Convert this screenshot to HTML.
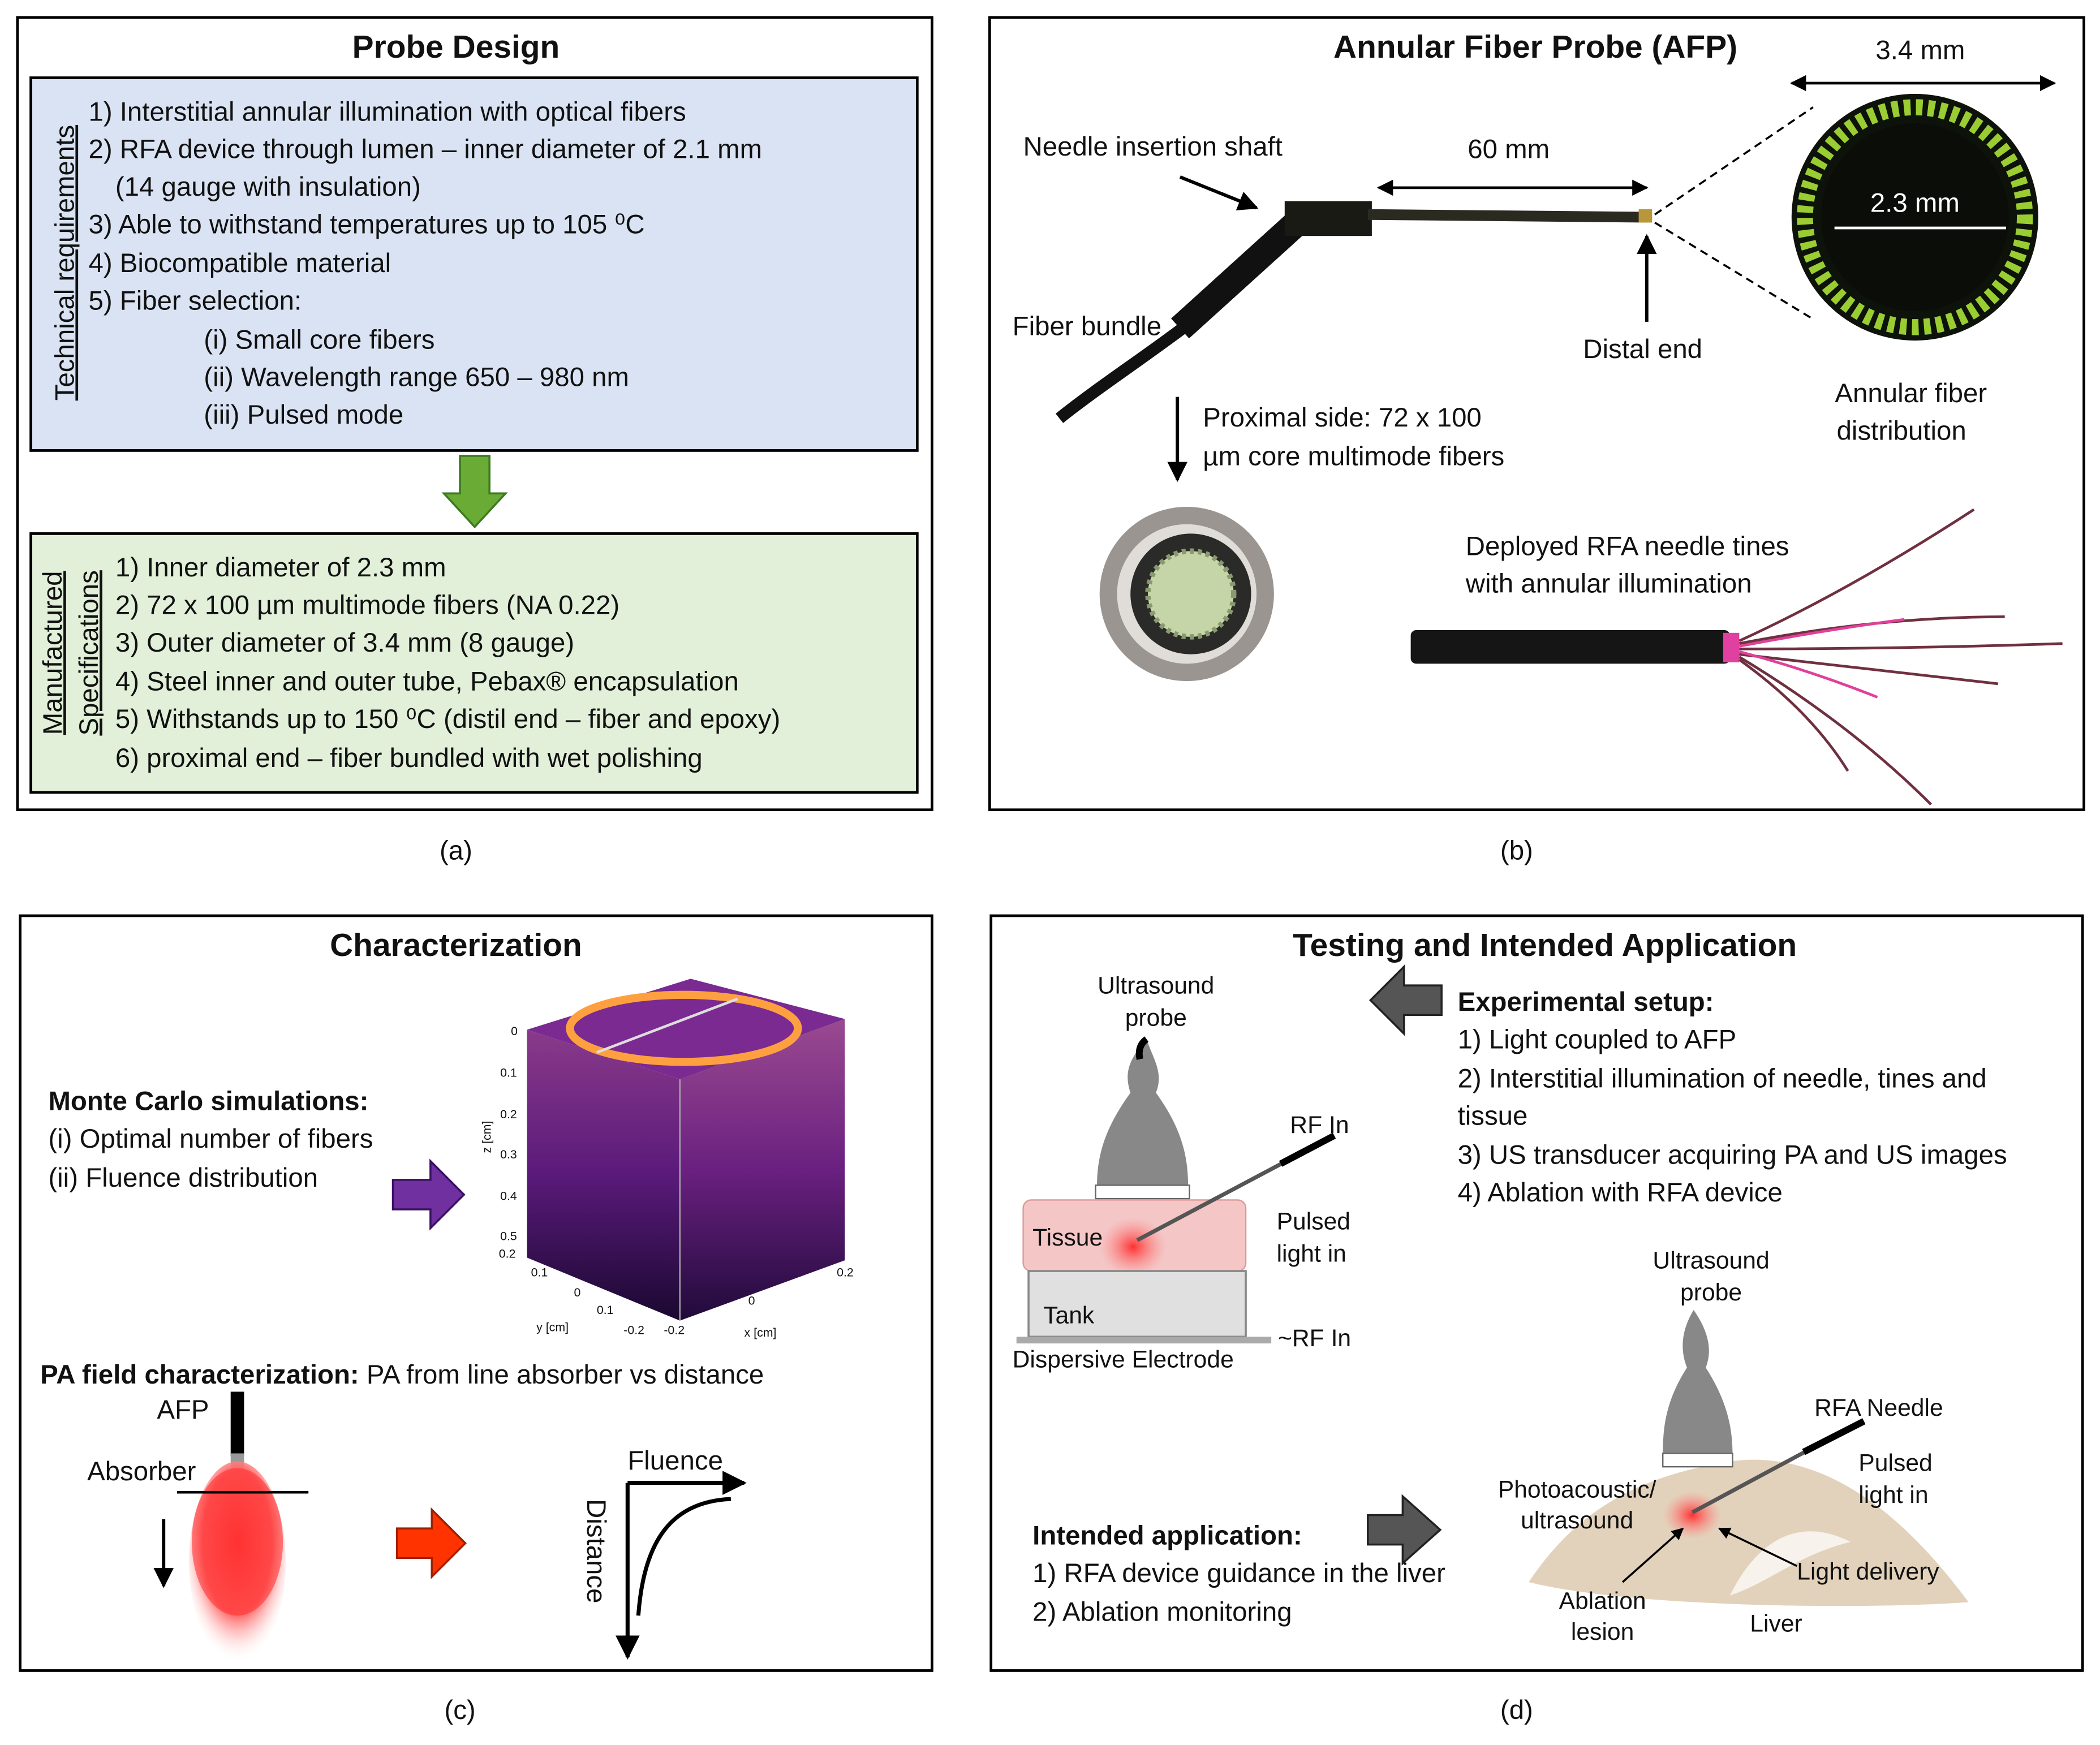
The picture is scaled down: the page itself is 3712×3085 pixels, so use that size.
<!DOCTYPE html>
<html><head><meta charset="utf-8"><style>
html,body{margin:0;padding:0;background:#fff}
svg{display:block}
text{font-family:"Liberation Sans",sans-serif;fill:#111}
.t{font-size:20px}
.h{font-size:24px;font-weight:bold}
.s{font-size:18px}
.xs{font-size:9px}
</style></head><body>
<svg width="3712" height="3085" viewBox="0 0 1566 1301.5" xmlns="http://www.w3.org/2000/svg">
<defs>
<marker id="ar" viewBox="0 0 10 10" refX="9" refY="5" markerWidth="6" markerHeight="6" orient="auto-start-reverse"><path d="M0,0L10,5L0,10z" fill="#000"/></marker>
<radialGradient id="glow" cx="50%" cy="40%" r="60%"><stop offset="0" stop-color="#ff3030"/><stop offset="0.6" stop-color="#f66"/><stop offset="1" stop-color="#fff" stop-opacity="0"/></radialGradient>
<linearGradient id="cubeF" x1="0" y1="0" x2="0" y2="1"><stop offset="0" stop-color="#8a3a8a"/><stop offset="0.5" stop-color="#5a1a7a"/><stop offset="1" stop-color="#1a0830"/></linearGradient>
<linearGradient id="cubeR" x1="0" y1="0" x2="0" y2="1"><stop offset="0" stop-color="#9a4a90"/><stop offset="0.5" stop-color="#6a2080"/><stop offset="1" stop-color="#200a3a"/></linearGradient>
<radialGradient id="lgl" cx="50%" cy="50%" r="50%"><stop offset="0" stop-color="#ff3030"/><stop offset="1" stop-color="#f88" stop-opacity="0"/></radialGradient>
</defs>

<!-- Panel a -->
<rect x="13" y="13" width="682" height="591" fill="#fff" stroke="#000" stroke-width="2"/>
<text x="340" y="43" class="h" text-anchor="middle">Probe Design</text>
<rect x="23" y="58" width="661" height="278" fill="#dae3f3" stroke="#000" stroke-width="2"/>
<text transform="translate(55,196) rotate(-90)" class="t" text-anchor="middle" text-decoration="underline">Technical requirements</text>
<g class="t">
<text x="66" y="90">1) Interstitial annular illumination with optical fibers</text>
<text x="66" y="118">2) RFA device through lumen – inner diameter of 2.1 mm</text>
<text x="86" y="146">(14 gauge with insulation)</text>
<text x="66" y="174">3) Able to withstand temperatures up to 105 ⁰C</text>
<text x="66" y="203">4) Biocompatible material</text>
<text x="66" y="231">5) Fiber selection:</text>
<text x="152" y="260">(i)  Small core fibers</text>
<text x="152" y="288">(ii) Wavelength range 650 – 980 nm</text>
<text x="152" y="316">(iii) Pulsed mode</text>
</g>
<path d="M343,340h22v28h12l-23,25l-23,-25h12z" fill="#6aab35" stroke="#3a7a20" stroke-width="1.5"/>
<rect x="23" y="398" width="661" height="193" fill="#e2efd9" stroke="#000" stroke-width="2"/>
<text transform="translate(46,487) rotate(-90)" class="t" text-anchor="middle" text-decoration="underline">Manufactured</text>
<text transform="translate(73,487) rotate(-90)" class="t" text-anchor="middle" text-decoration="underline">Specifications</text>
<g class="t">
<text x="86" y="430">1) Inner diameter of 2.3 mm</text>
<text x="86" y="458">2) 72 x 100 µm multimode fibers (NA 0.22)</text>
<text x="86" y="486">3) Outer diameter of 3.4 mm (8 gauge)</text>
<text x="86" y="515">4) Steel inner  and outer tube, Pebax® encapsulation</text>
<text x="86" y="543">5) Withstands up to 150 ⁰C  (distil end – fiber and epoxy)</text>
<text x="86" y="572">6) proximal end – fiber bundled with wet polishing</text>
</g>
<text x="340" y="641" class="t" font-size="24" text-anchor="middle">(a)</text>

<!-- Panel b -->
<rect x="738" y="13" width="816" height="591" fill="#fff" stroke="#000" stroke-width="2"/>
<text x="1145" y="43" class="h" text-anchor="middle">Annular Fiber Probe (AFP)</text>
<text x="763" y="116" class="t">Needle insertion shaft</text>
<line x1="880" y1="132" x2="937" y2="155" stroke="#000" stroke-width="2.5" marker-end="url(#ar)"/>
<text x="1125" y="118" class="t" text-anchor="middle">60 mm</text>
<line x1="1028" y1="140" x2="1228" y2="140" stroke="#000" stroke-width="2" marker-start="url(#ar)" marker-end="url(#ar)"/>
<path d="M790,312 C830,280 880,250 925,210 L965,170" stroke="#111" stroke-width="9" fill="none"/>
<path d="M880,245 L965,168" stroke="#111" stroke-width="20" fill="none"/>
<rect x="958" y="150" width="65" height="26" fill="#1a1a14"/>
<line x1="1020" y1="160" x2="1228" y2="162" stroke="#2a2a20" stroke-width="8"/>
<rect x="1222" y="156" width="10" height="10" fill="#b8963a"/>
<text x="755" y="250" class="t">Fiber bundle</text>
<line x1="1228" y1="240" x2="1228" y2="176" stroke="#000" stroke-width="2.5" marker-end="url(#ar)"/>
<text x="1225" y="267" class="t" text-anchor="middle">Distal end</text>
<line x1="1234" y1="160" x2="1352" y2="80" stroke="#000" stroke-width="1.5" stroke-dasharray="6,4"/>
<line x1="1234" y1="166" x2="1352" y2="238" stroke="#000" stroke-width="1.5" stroke-dasharray="6,4"/>
<circle cx="1428" cy="162" r="92" fill="#0d120a"/>
<circle cx="1428" cy="162" r="82" fill="none" stroke="#9acd32" stroke-width="12" stroke-dasharray="5,4"/>
<circle cx="1428" cy="162" r="70" fill="#0b0e08"/>
<text x="1432" y="44" class="t" text-anchor="middle">3.4 mm</text>
<line x1="1336" y1="62" x2="1532" y2="62" stroke="#000" stroke-width="2" marker-start="url(#ar)" marker-end="url(#ar)"/>
<text x="1428" y="158" class="t" text-anchor="middle" style="fill:#fff">2.3 mm</text>
<line x1="1368" y1="170" x2="1496" y2="170" stroke="#fff" stroke-width="2"/>
<text x="1425" y="300" class="t" text-anchor="middle">Annular fiber</text>
<text x="1418" y="328" class="t" text-anchor="middle">distribution</text>
<line x1="878" y1="296" x2="878" y2="358" stroke="#000" stroke-width="2.5" marker-end="url(#ar)"/>
<text x="897" y="318" class="t">Proximal side: 72 x 100</text>
<text x="897" y="347" class="t">µm core multimode fibers</text>
<circle cx="885" cy="443" r="65" fill="#9a9590"/>
<circle cx="885" cy="443" r="52" fill="#e0ddd8"/>
<circle cx="888" cy="443" r="45" fill="#2a2a28"/>
<circle cx="888" cy="443" r="32" fill="#c6d5a8" stroke="#8a9a70" stroke-width="4" stroke-dasharray="3,3"/>
<text x="1093" y="414" class="t">Deployed RFA needle tines</text>
<text x="1093" y="442" class="t">with annular illumination</text>
<rect x="1052" y="470" width="238" height="25" rx="4" fill="#151515"/>
<rect x="1285" y="472" width="12" height="22" fill="#e040a0"/>
<g stroke="#703040" stroke-width="2" fill="none">
<path d="M1297,478 Q1380,440 1472,380"/><path d="M1297,480 Q1400,460 1495,460"/>
<path d="M1297,484 Q1420,484 1538,480"/><path d="M1297,488 Q1400,500 1490,510"/>
<path d="M1297,490 Q1380,540 1440,600"/><path d="M1297,492 Q1350,530 1378,575"/>
</g>
<g stroke="#e0409a" stroke-width="2" fill="none">
<path d="M1297,482 Q1360,470 1420,462"/><path d="M1297,486 Q1350,500 1400,520"/>
</g>
<text x="1131" y="641" class="t" font-size="24" text-anchor="middle">(b)</text>

<!-- Panel c -->
<rect x="15" y="683" width="680" height="563" fill="#fff" stroke="#000" stroke-width="2"/>
<text x="340" y="713" class="h" text-anchor="middle">Characterization</text>
<polygon points="393,768 507,805 507,985 393,938" fill="url(#cubeF)"/>
<polygon points="507,805 630,760 630,940 507,985" fill="url(#cubeR)"/>
<polygon points="393,768 515,730 630,760 507,805" fill="#7a2a90"/>
<ellipse cx="510" cy="767" rx="85" ry="25" fill="none" stroke="#ffa040" stroke-width="6"/>
<line x1="507" y1="805" x2="507" y2="985" stroke="#aaa" stroke-width="1"/>
<line x1="445" y1="785" x2="550" y2="745" stroke="#ddd" stroke-width="2"/>
<g class="xs">
<text x="381" y="772">0</text><text x="373" y="803">0.1</text><text x="373" y="834">0.2</text><text x="373" y="864">0.3</text><text x="373" y="895">0.4</text><text x="373" y="925">0.5</text><text x="372" y="938">0.2</text>
<text x="396" y="952">0.1</text><text x="428" y="967">0</text><text x="445" y="980">0.1</text><text x="465" y="995">-0.2</text><text x="495" y="995">-0.2</text>
<text x="558" y="973">0</text><text x="624" y="952">0.2</text><text x="400" y="993">y [cm]</text><text x="555" y="997">x [cm]</text>
<text transform="translate(366,860) rotate(-90)">z [cm]</text>
</g>
<text x="36" y="828" class="t" font-weight="bold">Monte Carlo simulations:</text>
<text x="36" y="856" class="t">(i) Optimal number of fibers</text>
<text x="36" y="885" class="t">(ii) Fluence distribution</text>
<path d="M293,880h28v-14l25,25l-25,25v-14h-28z" fill="#7030a0" stroke="#3a1060" stroke-width="1.5"/>
<text x="30" y="1032" class="t"><tspan font-weight="bold">PA field characterization:</tspan> PA from line absorber vs distance</text>
<text x="117" y="1058" class="t">AFP</text>
<rect x="172" y="1038" width="10" height="48" fill="#000"/>
<rect x="172" y="1084" width="10" height="12" fill="#999"/>
<ellipse cx="177" cy="1165" rx="36" ry="75" fill="url(#glow)"/>
<ellipse cx="177" cy="1150" rx="34" ry="55" fill="#f33" opacity="0.6"/>
<line x1="132" y1="1113" x2="230" y2="1113" stroke="#000" stroke-width="2"/>
<text x="65" y="1104" class="t">Absorber</text>
<line x1="122" y1="1133" x2="122" y2="1183" stroke="#000" stroke-width="2.5" marker-end="url(#ar)"/>
<path d="M296,1140h26v-14l25,25l-25,25v-14h-26z" fill="#ff3300" stroke="#a02000" stroke-width="1.5"/>
<line x1="468" y1="1106" x2="468" y2="1236" stroke="#000" stroke-width="3" marker-end="url(#ar)"/>
<line x1="468" y1="1106" x2="555" y2="1106" stroke="#000" stroke-width="3" marker-end="url(#ar)"/>
<path d="M476,1205 C480,1150 500,1120 545,1118" stroke="#000" stroke-width="3" fill="none"/>
<text x="468" y="1096" class="t">Fluence</text>
<text transform="translate(438,1118) rotate(90)" class="t">Distance</text>
<text x="343" y="1282" class="t" font-size="24" text-anchor="middle">(c)</text>

<!-- Panel d -->
<rect x="739" y="683" width="814" height="563" fill="#fff" stroke="#000" stroke-width="2"/>
<text x="1152" y="713" class="h" text-anchor="middle">Testing and Intended Application</text>
<text x="862" y="741" class="s" text-anchor="middle">Ultrasound</text>
<text x="862" y="765" class="s" text-anchor="middle">probe</text>
<path d="M1075,735h-28v-14l-25,25l25,25v-14h28z" fill="#555" stroke="#222" stroke-width="1.5"/>
<g class="t">
<text x="1087" y="754" font-weight="bold">Experimental setup:</text>
<text x="1087" y="782">1) Light coupled to AFP</text>
<text x="1087" y="811">2) Interstitial illumination of needle, tines and</text>
<text x="1087" y="839">tissue</text>
<text x="1087" y="868">3) US transducer acquiring PA and US images</text>
<text x="1087" y="896">4) Ablation with RFA device</text>
</g>
<path d="M855,775 C842,790 838,800 843,815 C825,840 818,860 818,885 L886,885 C886,860 880,840 862,815 C868,800 860,790 855,775z" fill="#888"/>
<path d="M855,775 Q848,780 850,790" stroke="#000" stroke-width="5" fill="none"/>
<rect x="817" y="884" width="70" height="10" fill="#fff" stroke="#666"/>
<rect x="763" y="895" width="166" height="53" rx="6" fill="#f4c6c6" stroke="#d99" />
<ellipse cx="845" cy="930" rx="25" ry="22" fill="url(#lgl)"/>
<rect x="767" y="948" width="162" height="49" fill="#e0e0e0" stroke="#888" stroke-width="1.5"/>
<rect x="758" y="997" width="190" height="5" fill="#aaa"/>
<line x1="848" y1="925" x2="980" y2="855" stroke="#555" stroke-width="3"/>
<line x1="955" y1="868" x2="995" y2="847" stroke="#000" stroke-width="5"/>
<text x="770" y="929" class="s">Tissue</text>
<text x="778" y="987" class="s">Tank</text>
<text x="962" y="845" class="s">RF In</text>
<text x="952" y="917" class="s">Pulsed</text>
<text x="952" y="941" class="s">light in</text>
<text x="953" y="1004" class="s">~RF In</text>
<text x="755" y="1020" class="s">Dispersive Electrode</text>
<text x="1276" y="946" class="s" text-anchor="middle">Ultrasound</text>
<text x="1276" y="970" class="s" text-anchor="middle">probe</text>
<path d="M1140,1180 C1180,1120 1230,1100 1290,1090 C1360,1080 1420,1130 1468,1195 C1400,1200 1220,1200 1140,1180z" fill="#e3d2bb"/>
<path d="M1290,1190 C1310,1150 1340,1130 1380,1150 C1340,1160 1320,1180 1290,1190z" fill="#fff" opacity="0.7"/>
<path d="M1263,977 C1255,990 1252,1005 1258,1020 C1242,1045 1240,1065 1240,1085 L1292,1085 C1292,1065 1288,1045 1272,1020 C1278,1005 1272,990 1263,977z" fill="#888"/>
<rect x="1240" y="1084" width="52" height="10" fill="#fff" stroke="#666"/>
<ellipse cx="1262" cy="1130" rx="22" ry="18" fill="url(#lgl)"/>
<line x1="1262" y1="1128" x2="1370" y2="1070" stroke="#555" stroke-width="3"/>
<line x1="1345" y1="1083" x2="1390" y2="1060" stroke="#000" stroke-width="5"/>
<text x="1353" y="1056" class="s">RFA Needle</text>
<text x="1386" y="1097" class="s">Pulsed</text>
<text x="1386" y="1121" class="s">light in</text>
<text x="1117" y="1117" class="s">Photoacoustic/</text>
<text x="1134" y="1140" class="s">ultrasound</text>
<text x="1340" y="1178" class="s">Light delivery</text>
<line x1="1340" y1="1168" x2="1282" y2="1140" stroke="#000" stroke-width="1.5" marker-end="url(#ar)"/>
<line x1="1210" y1="1180" x2="1255" y2="1140" stroke="#000" stroke-width="1.5" marker-end="url(#ar)"/>
<text x="1195" y="1200" class="s" text-anchor="middle">Ablation</text>
<text x="1195" y="1223" class="s" text-anchor="middle">lesion</text>
<text x="1305" y="1217" class="s">Liver</text>
<path d="M1020,1130h26v-14l28,25l-28,25v-14h-26z" fill="#555" stroke="#222" stroke-width="1.5"/>
<g class="t">
<text x="770" y="1152" font-weight="bold">Intended application:</text>
<text x="770" y="1180">1) RFA device guidance in the liver</text>
<text x="770" y="1209">2) Ablation monitoring</text>
</g>
<text x="1131" y="1282" class="t" font-size="24" text-anchor="middle">(d)</text>
</svg>
</body></html>
